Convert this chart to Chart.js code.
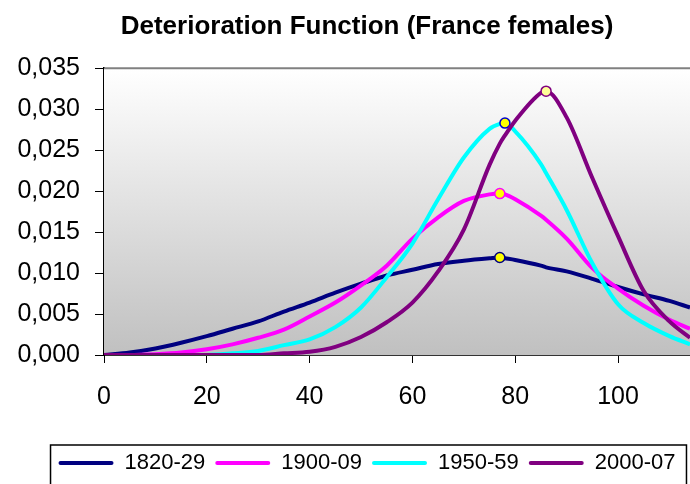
<!DOCTYPE html>
<html>
<head>
<meta charset="utf-8">
<script src="https://cdn.jsdelivr.net/npm/chart.js@4/dist/chart.umd.min.js"></script>
<style>
  html, body { margin: 0; padding: 0; background: #fff; }
  #wrap { width: 690px; height: 484px; }
</style>
</head>
<body>
<div id="wrap"><canvas id="myChart" width="690" height="484"></canvas></div>
<script>
// ages (x) and values
var ages = [0, 5, 10, 15, 20, 25, 30, 35, 40, 45, 50, 55, 60, 65, 70, 75, 77, 78, 80, 85, 86, 90, 95, 100, 105, 110, 114];
var labels = ['1820-29', '1900-09', '1950-59', '2000-07'];
var s1820 = [0, 0.0003, 0.0008, 0.0015, 0.0023, 0.0032, 0.0041, 0.0053, 0.0064, 0.0076, 0.0087, 0.0097, 0.0104, 0.0111, 0.0115, 0.0118, 0.0119, 0.0118, 0.0116, 0.0109, 0.0107, 0.0102, 0.0093, 0.0083, 0.0074, 0.0066, 0.0058];
var s1900 = [0, 0, 0.0001, 0.0003, 0.0007, 0.0013, 0.0021, 0.0031, 0.0047, 0.0064, 0.0085, 0.0109, 0.0142, 0.0168, 0.0188, 0.0196, 0.0197, 0.0196, 0.0190, 0.0170, 0.0165, 0.0142, 0.0106, 0.0081, 0.0060, 0.0043, 0.0032];
var s1950 = [0, 0, 0, 0, 0, 0.0002, 0.0005, 0.0012, 0.0019, 0.0034, 0.0058, 0.0095, 0.0136, 0.0190, 0.0241, 0.0276, 0.0282, 0.0283, 0.0273, 0.0233, 0.0222, 0.0177, 0.0112, 0.0062, 0.0039, 0.0023, 0.0013];
var s2000 = [0, 0, 0, 0, 0, 0, 0, 0.0002, 0.0004, 0.0010, 0.0022, 0.0040, 0.0064, 0.0102, 0.0153, 0.0232, 0.0258, 0.0268, 0.0286, 0.0320, 0.0322, 0.0290, 0.0216, 0.0145, 0.0078, 0.0041, 0.0021];
var peakAges = [77, 77, 78, 86];

var colors = ['#000080', '#FF00FF', '#00FFFF', '#800080'];
var markerFill = ['#FFFF00', '#FFFF00', '#FFFF00', '#FFFF99'];
var markerBorder = ['#000080', '#FF00FF', '#0000CC', '#800080'];
var FONT = 'Liberation Sans, Arial, sans-serif';

function makeSet(i, values) {
    return {
        label: labels[i],
        data: ages.map(function (a, k) { return { x: a, y: values[k] }; }),
        borderColor: colors[i],
        backgroundColor: colors[i],
        borderWidth: 4,
        fill: false,
        cubicInterpolationMode: 'monotone',
        order: 4 - i,
        pointRadius: function (c) { return ages[c.dataIndex] === peakAges[i] ? 5 : 0; },
        pointHoverRadius: 0,
        pointBackgroundColor: markerFill[i],
        pointBorderColor: markerBorder[i],
        pointBorderWidth: 1.5
    };
}

// the title and legend sit a bit right of the canvas centre in the original
var SHIFT = 22;

var plotBg = {
    id: 'plotBg',
    afterLayout: function (chart) {
        [chart.titleBlock, chart.legend].forEach(function (b) {
            if (!b) return;
            b.left += SHIFT;
            b.right += SHIFT;
            (b.legendHitBoxes || []).forEach(function (h) { h.left += SHIFT; });
        });
    },
    beforeDatasetsDraw: function (chart) {
        var a = chart.chartArea, ctx = chart.ctx;
        var g = ctx.createLinearGradient(0, a.top, 0, a.bottom);
        g.addColorStop(0, '#FFFFFF');
        g.addColorStop(1, '#C0C0C0');
        ctx.save();
        ctx.fillStyle = g;
        ctx.fillRect(a.left, a.top, a.right - a.left, a.bottom - a.top);
        ctx.strokeStyle = '#808080';
        ctx.lineWidth = 2;
        ctx.beginPath();
        ctx.moveTo(a.left, a.top);
        ctx.lineTo(a.right, a.top);
        ctx.stroke();
        ctx.restore();
    },
    afterDraw: function (chart) {
        var lg = chart.legend, ctx = chart.ctx;
        if (!lg || !lg.legendHitBoxes.length) return;
        var hb = lg.legendHitBoxes;
        var left = hb[0].left - 8;
        var last = hb[hb.length - 1];
        var right = Math.min(last.left + last.width + 11, 688);
        ctx.save();
        ctx.strokeStyle = '#000';
        ctx.lineWidth = 1.5;
        ctx.strokeRect(left, lg.top + 3, right - left, 60);
        ctx.restore();
    }
};

var ctx = document.getElementById('myChart').getContext('2d');
var myChart = new Chart(ctx, {
    type: 'line',
    data: {
        datasets: [makeSet(0, s1820), makeSet(1, s1900), makeSet(2, s1950), makeSet(3, s2000)]
    },
    options: {
        responsive: false,
        animation: false,
        layout: { padding: 0 },
        plugins: {
            title: {
                display: true,
                text: 'Deterioration Function (France females)',
                color: '#000',
                font: { family: FONT, size: 26, weight: 'bold' },
                padding: { top: 11, bottom: 26 }
            },
            legend: {
                position: 'bottom',
                labels: {
                    color: '#000',
                    font: { family: FONT, size: 22 },
                    boxWidth: 55,
                    boxHeight: 4,
                    padding: 10,
                    sort: function (a, b) { return a.datasetIndex - b.datasetIndex; },
                    generateLabels: function (chart) {
                        return Chart.defaults.plugins.legend.labels.generateLabels(chart).map(function (l) {
                            l.fillStyle = l.strokeStyle;
                            l.lineWidth = 0;
                            l.borderRadius = 2;
                            return l;
                        });
                    }
                }
            },
            tooltip: { enabled: false }
        },
        scales: {
            x: {
                type: 'linear',
                min: 0,
                max: 114,
                afterFit: function (s) { s.height = 87; },
                grid: { drawOnChartArea: false, drawTicks: true, tickLength: 8, color: '#000' },
                border: { color: '#333', width: 2 },
                ticks: {
                    stepSize: 20,
                    includeBounds: false,
                    padding: 19,
                    color: '#000',
                    font: { family: FONT, size: 25 }
                }
            },
            y: {
                min: 0,
                max: 0.035,
                afterFit: function (s) { s.width = 104; },
                grid: { drawOnChartArea: false, drawTicks: true, tickLength: 9, color: '#000' },
                border: { color: '#000', width: 2 },
                ticks: {
                    stepSize: 0.005,
                    padding: 15,
                    color: '#000',
                    font: { family: FONT, size: 25 },
                    callback: function (v) { return v.toFixed(3).replace('.', ','); }
                }
            }
        }
    },
    plugins: [plotBg]
});
</script>
</body>
</html>
